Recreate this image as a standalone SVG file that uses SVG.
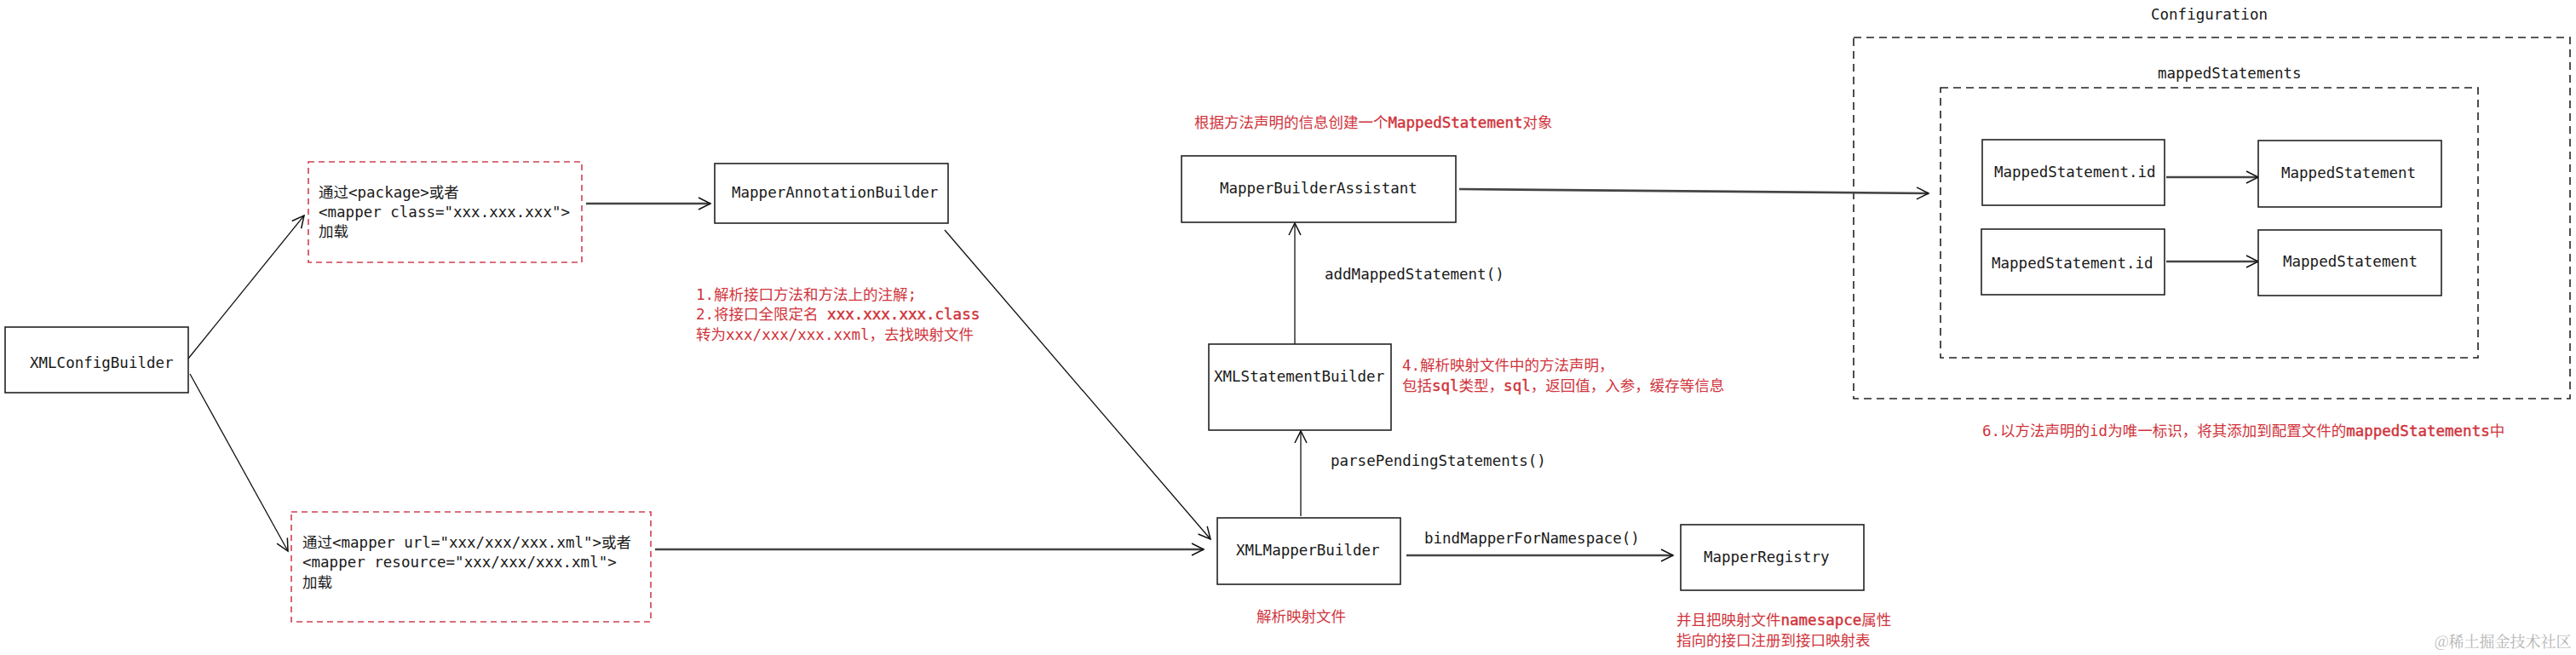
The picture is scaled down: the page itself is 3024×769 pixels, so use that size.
<svg xmlns="http://www.w3.org/2000/svg" width="3024" height="769" viewBox="0 0 3024 769">
<style>
text{font-family:"DejaVu Sans Mono","Noto Sans CJK SC",monospace;font-size:17.5px;fill:#1a1a1a}
.red{fill:#d0343c}
.b{stroke:#d0343c;stroke-width:0.45}
.box{fill:#fff;stroke:#222;stroke-width:1.6}
.rbox{fill:#fff;stroke:#d04050;stroke-width:1.6;stroke-dasharray:7 5}
.dbox{fill:none;stroke:#222;stroke-width:1.6;stroke-dasharray:9 6}
.thin{fill:none;stroke:#111;stroke-width:1.3;marker-end:url(#ah)}
.thick{fill:none;stroke:#444;stroke-width:2.6;marker-end:url(#ah)}
.wm{font-family:"Noto Serif CJK SC","Noto Sans CJK SC",serif;font-size:18px;fill:#b4b4b4}
</style>
<defs>
<marker id="ah" markerUnits="userSpaceOnUse" markerWidth="20" markerHeight="20" refX="0" refY="0" viewBox="-16 -10 18 20" orient="auto">
<path d="M-14,-7 L0,0 L-14,7" fill="none" stroke="#111" stroke-width="1.5"/>
</marker>
</defs>
<rect width="3024" height="769" fill="#fff"/>

<g id="configuration">
<rect class="dbox" x="2176" y="44" width="841" height="424"/>
<text x="2525" y="23">Configuration</text>
</g>
<g id="mappedStatements">
<rect class="dbox" x="2278" y="103" width="631" height="317"/>
<text x="2533" y="92">mappedStatements</text>
</g>

<g id="connectors">
<path class="thin" d="M221,421 L357,253"/>
<path class="thin" d="M223,439 L338,647"/>
<path class="thick" d="M688,239 L834,239"/>
<path class="thin" d="M1109,270 L1421,633"/>
<path class="thick" d="M769,645 L1413,645"/>
<path class="thin" d="M1527,606 L1527,506"/>
<path class="thin" d="M1520,404 L1520,262"/>
<path class="thick" d="M1713,222 L2264,227"/>
<path class="thick" d="M1651,652 L1964,652"/>
<path class="thick" d="M2543,208 L2651,208"/>
<path class="thick" d="M2543,307 L2651,307"/>
<text x="1555" y="328">addMappedStatement()</text>
<text x="1562" y="547">parsePendingStatements()</text>
<text x="1672" y="638">bindMapperForNamespace()</text>
</g>

<g id="XMLConfigBuilder">
<rect class="box" x="6" y="384" width="215" height="77"/>
<text x="35" y="432">XMLConfigBuilder</text>
</g>

<g id="packageNote">
<rect class="rbox" x="362" y="190" width="321" height="118"/>
<text x="374" y="232">通过&lt;package&gt;或者</text>
<text x="374" y="255">&lt;mapper class="xxx.xxx.xxx"&gt;</text>
<text x="374" y="278">加载</text>
</g>

<g id="urlNote">
<rect class="rbox" x="342" y="601" width="422" height="129"/>
<text x="355" y="643">通过&lt;mapper url="xxx/xxx/xxx.xml"&gt;或者</text>
<text x="355" y="666">&lt;mapper resource="xxx/xxx/xxx.xml"&gt;</text>
<text x="355" y="690">加载</text>
</g>

<g id="MapperAnnotationBuilder">
<rect class="box" x="839" y="192" width="274" height="70"/>
<text x="859" y="232">MapperAnnotationBuilder</text>
</g>

<g id="note1">
<text class="red" x="817" y="352">1.解析接口方法和方法上的注解;</text>
<text class="red" x="817" y="375">2.将接口全限定名 <tspan class="b">xxx.xxx.xxx.class</tspan></text>
<text class="red" x="817" y="399">转为xxx/xxx/xxx.xxml，去找映射文件</text>
</g>

<g id="MapperBuilderAssistant">
<rect class="box" x="1387" y="183" width="322" height="78"/>
<text x="1432" y="227">MapperBuilderAssistant</text>
<text class="red" x="1402" y="150">根据方法声明的信息创建一个<tspan class="b">MappedStatement</tspan>对象</text>
</g>

<g id="XMLStatementBuilder">
<rect class="box" x="1419" y="404" width="214" height="101"/>
<text x="1425" y="448">XMLStatementBuilder</text>
<text class="red" x="1646" y="435">4.解析映射文件中的方法声明，</text>
<text class="red" x="1646" y="459">包括<tspan class="b">sql</tspan>类型，<tspan class="b">sql</tspan>，返回值，入参，缓存等信息</text>
</g>

<g id="XMLMapperBuilder">
<rect class="box" x="1429" y="608" width="215" height="78"/>
<text x="1451" y="652">XMLMapperBuilder</text>
<text class="red" x="1475" y="730">解析映射文件</text>
</g>

<g id="MapperRegistry">
<rect class="box" x="1973" y="616" width="215" height="77"/>
<text x="2000" y="660">MapperRegistry</text>
<text class="red" x="1968" y="734">并且把映射文件<tspan class="b">namesapce</tspan>属性</text>
<text class="red" x="1968" y="758">指向的接口注册到接口映射表</text>
</g>

<g id="MappedStatementId1">
<rect class="box" x="2327" y="164" width="214" height="77"/>
<text x="2341" y="208">MappedStatement.id</text>
</g>
<g id="MappedStatement1">
<rect class="box" x="2651" y="165" width="215" height="78"/>
<text x="2678" y="209">MappedStatement</text>
</g>
<g id="MappedStatementId2">
<rect class="box" x="2326" y="269" width="215" height="77"/>
<text x="2338" y="315">MappedStatement.id</text>
</g>
<g id="MappedStatement2">
<rect class="box" x="2651" y="270" width="215" height="77"/>
<text x="2680" y="313">MappedStatement</text>
</g>

<g id="note6">
<text class="red" x="2327" y="512">6.以方法声明的id为唯一标识，将其添加到配置文件的<tspan class="b">mappedStatements</tspan>中</text>
</g>

<text class="wm" x="2858" y="760">@稀土掘金技术社区</text>
</svg>
